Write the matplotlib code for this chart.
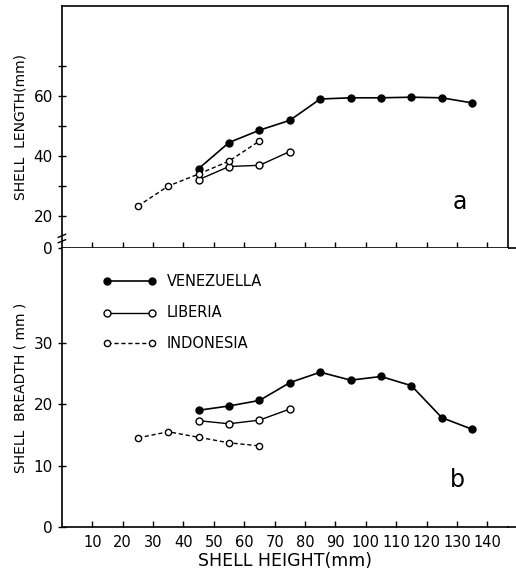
import numpy as np
import matplotlib.pyplot as plt

ven_h = [45, 55, 65, 75, 85, 95, 105, 115, 125, 135]
ven_len = [35.8, 44.5, 48.6, 51.9, 59.0, 59.4, 59.4, 59.6, 59.4, 57.7]
ven_br = [19.0, 19.7, 20.6, 23.5, 25.2, 23.9, 24.5, 23.0, 17.8, 15.9]

lib_h = [45, 55, 65, 75]
lib_len = [32.1, 36.5, 36.9, 41.5]
lib_br = [17.3, 16.8, 17.4, 19.2]

ind_h = [25, 35, 45, 55, 65]
ind_len = [23.3, 30.0, 34.0, 38.3, 45.0]
ind_br = [14.5, 15.5, 14.6, 13.7, 13.2]

xticks = list(range(10, 150, 10))

plt.rcParams['font.family'] = 'DejaVu Sans'
fig = plt.figure(figsize=(5.16, 5.77), dpi=100)
ax1 = fig.add_axes([0.120, 0.570, 0.864, 0.4196])
ax2 = fig.add_axes([0.120, 0.0867, 0.864, 0.4833])

XMAX = 146.7
ms = 5

def draw(ax, yv, yl, yi):
    ax.plot(ven_h, yv, '-', color='k', lw=1.2, marker='o', ms=ms, mfc='k', mec='k')
    ax.plot(lib_h, yl, '-', color='k', lw=1.0, marker='o', ms=ms, mfc='white', mec='k', mew=1.0)
    ax.plot(ind_h, yi, '--', color='k', lw=1.0, marker='o', ms=ms - 0.5, mfc='white',
            mec='k', mew=1.0, dashes=(3, 2))

# panel a
draw(ax1, ven_len, lib_len, ind_len)
y0 = 9.3
ax1.set_xlim(0, XMAX)
ax1.set_ylim(y0, 90)
ax1.set_yticks([y0, 20, 40, 60])
ax1.set_yticklabels(['0', '20', '40', '60'], fontsize=11)
ax1.set_yticks([30, 50, 70], minor=True)
ax1.set_xticks(xticks)
ax1.set_xticklabels([])
ax1.tick_params(axis='x', direction='in', length=4, width=1)
ax1.tick_params(axis='y', which='both', direction='inout', length=6, width=1)
ax1.set_ylabel('SHELL  LENGTH(mm)', fontsize=10, labelpad=4)
ax1.text(131, 24.7, 'a', fontsize=17, ha='center', va='center')
# axis break
for dy in (-1.2, 0.6):
    ax1.plot([-1.2, 1.2], [12.3 + dy, 13.3 + dy], color='k', lw=1, clip_on=False)
ax1.plot([XMAX, 149.7], [y0, y0], color='k', lw=1.2, clip_on=False)
for s in ax1.spines.values():
    s.set_linewidth(1.2)

# panel b
draw(ax2, ven_br, lib_br, ind_br)
ax2.set_xlim(0, XMAX)
ax2.set_ylim(0, 45.4)
ax2.set_yticks([0, 10, 20, 30])
ax2.set_yticklabels(['0', '10', '20', '30'], fontsize=11)
ax2.set_xticks(xticks)
ax2.set_xticklabels([str(t) for t in xticks], fontsize=10.5)
ax2.tick_params(axis='x', direction='in', length=4, width=1, pad=6)
ax2.tick_params(axis='y', direction='inout', length=6, width=1)
ax2.set_xlabel('SHELL HEIGHT(mm)', fontsize=12.5, labelpad=1)
ax2.set_ylabel('SHELL  BREADTH ( mm )', fontsize=10, labelpad=4)
ax2.text(130, 7.6, 'b', fontsize=17, ha='center', va='center')
ax2.plot([XMAX, 149.7], [0, 0], color='k', lw=1.2, clip_on=False)
ax2.spines['top'].set_visible(False)
ax2.spines['right'].set_visible(False)
for s in ax2.spines.values():
    s.set_linewidth(1.2)

# legend drawn inside panel b
leg_x = [14.8, 29.6]
leg_y = [40.0, 34.9, 29.9]
ax2.plot(leg_x, [leg_y[0]] * 2, '-', color='k', lw=1.2, marker='o', ms=ms, mfc='k', mec='k')
ax2.plot(leg_x, [leg_y[1]] * 2, '-', color='k', lw=1.0, marker='o', ms=ms, mfc='white', mec='k')
ax2.plot(leg_x, [leg_y[2]] * 2, '--', color='k', lw=1.0, marker='o', ms=ms - 0.5,
         mfc='white', mec='k', dashes=(3, 2))
for yy, name in zip(leg_y, ['VENEZUELLA', 'LIBERIA', 'INDONESIA']):
    ax2.text(34.5, yy, name, fontsize=10.5, va='center', ha='left')

fig.savefig('out.png', dpi=100)
